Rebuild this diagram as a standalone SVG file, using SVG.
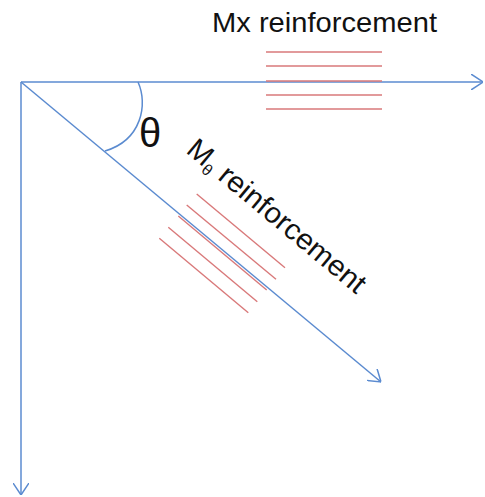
<svg xmlns="http://www.w3.org/2000/svg" width="485" height="497" viewBox="0 0 485 497">
<defs>
<style>
.ax{stroke:#5B8BD0;stroke-width:1.5;fill:none}
.rb{stroke:#D9797A;stroke-width:1.4;fill:none}
.lbl{font-family:"Liberation Sans",Arial,sans-serif;fill:#111}
</style>
<marker id="arr" viewBox="0 0 12 16" refX="12" refY="8" markerWidth="12" markerHeight="16" markerUnits="userSpaceOnUse" orient="auto">
<path d="M0,0 L12,8 L0,16" fill="none" stroke="#5B8BD0" stroke-width="1.5"/>
</marker>
</defs>
<rect width="485" height="497" fill="#fff"/>
<g id="connectors">
<line class="ax" x1="21" y1="82" x2="483" y2="82" marker-end="url(#arr)"/>
<line class="ax" x1="21" y1="82" x2="21" y2="495" marker-end="url(#arr)"/>
<line class="ax" x1="21" y1="82" x2="381" y2="382" marker-end="url(#arr)"/>
<path class="ax" d="M138,82 C148,104 142,140 105,151"/>
</g>
<g id="mx-reinforcement">
<line class="rb" x1="266" y1="52" x2="382" y2="52"/>
<line class="rb" x1="266" y1="66" x2="382" y2="66"/>
<line class="rb" x1="266" y1="81" x2="382" y2="81"/>
<line class="rb" x1="266" y1="95" x2="382" y2="95"/>
<line class="rb" x1="266" y1="109" x2="382" y2="109"/>
<text class="lbl" x="212" y="32" font-size="28" textLength="225" lengthAdjust="spacingAndGlyphs">Mx reinforcement</text>
</g>
<g id="mtheta-reinforcement">
<line class="rb" x1="196.7" y1="194" x2="285" y2="267.7"/>
<line class="rb" x1="186.7" y1="205" x2="276" y2="279.3"/>
<line class="rb" x1="178.3" y1="216" x2="266.7" y2="290"/>
<line class="rb" x1="168.3" y1="227.3" x2="257.3" y2="301.7"/>
<line class="rb" x1="159.3" y1="238.3" x2="248.3" y2="312.7"/>
<text class="lbl" transform="translate(185,152) rotate(39.8)" font-size="29">M<tspan font-size="16" dy="5">θ</tspan><tspan dy="-5" textLength="190" lengthAdjust="spacingAndGlyphs"> reinforcement</tspan></text>
</g>
<g id="theta">
<text class="lbl" x="139" y="147" font-size="40">θ</text>
</g>
</svg>
